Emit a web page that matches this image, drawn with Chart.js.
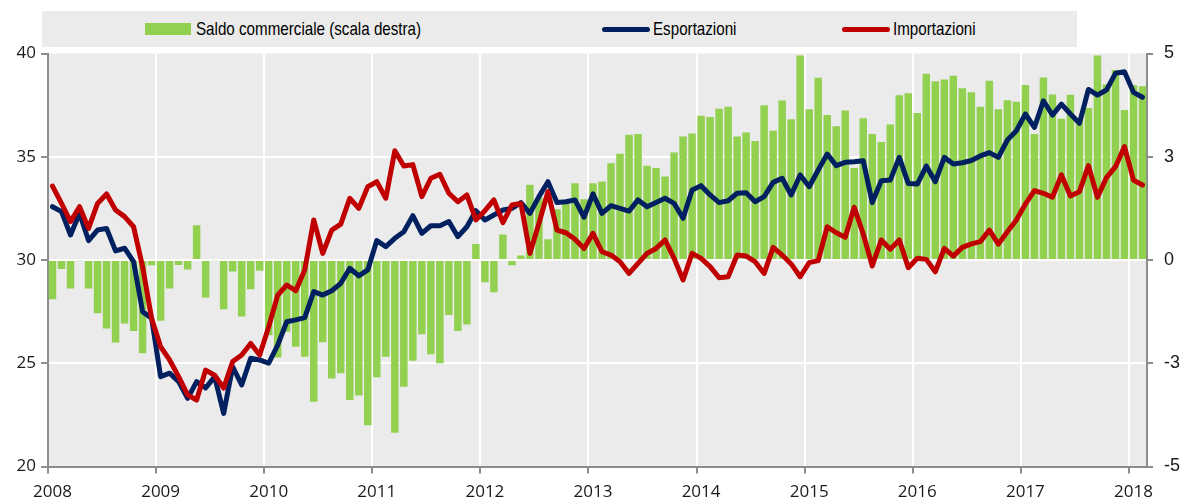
<!DOCTYPE html>
<html lang="it">
<head>
<meta charset="utf-8">
<title>Saldo commerciale, esportazioni e importazioni</title>
<script src="https://cdn.jsdelivr.net/npm/chart.js@4.4.1/dist/chart.umd.min.js"></script>
<style>
  html, body { margin: 0; padding: 0; background: #fff; }
  #wrap { position: relative; width: 1181px; height: 501px; overflow: hidden; }
  #chart { position: absolute; left: 0; top: 0; }
  .legend { position: absolute; left: 42px; top: 11px; width: 1035px; height: 36px; background: #ebebeb; }
  .legend-item {
    position: absolute; top: 0; height: 36px;
    display: flex; align-items: center;
    white-space: nowrap;
  }
  .legend-item .txt {
    display: inline-block;
    font-family: 'Liberation Sans', Arial, sans-serif;
    font-size: 18.5px; color: #000;
    transform: scaleX(0.82); transform-origin: left center;
  }
  .swatch-bar { width: 46px; height: 12px; background: #92d050; margin-right: 5px; }
  .swatch-line { width: 48px; height: 5px; border-radius: 3px; margin-right: 3px; }
</style>
</head>
<body>
<div id="wrap">
  <canvas id="chart" width="1181" height="501"></canvas>
  <div class="legend">
    <div class="legend-item" style="left:103px"><span class="swatch-bar"></span><span class="txt">Saldo commerciale (scala destra)</span></div>
    <div class="legend-item" style="left:560px"><span class="swatch-line" style="background:#002060"></span><span class="txt">Esportazioni</span></div>
    <div class="legend-item" style="left:800px"><span class="swatch-line" style="background:#c00000"></span><span class="txt">Importazioni</span></div>
  </div>
</div>
<script>
// monthly data, Jan 2008 - Feb 2018
const firstYear = 2008;

// trade balance, right scale
const saldo = [
    -0.95, -0.22, -0.69, -0.02, -0.69, -1.29, -1.66, -2.00, -1.54, -1.72, -2.26, -0.13,
    -1.47, -0.69, -0.12, -0.23, 0.84, -0.91, -0.02, -1.19, -0.28, -1.37, -0.71, -0.26,
    -1.82, -2.36, -1.74, -2.10, -2.34, -3.43, -1.99, -2.87, -2.74, -3.39, -3.28, -4.00,
    -2.84, -2.34, -4.18, -3.07, -2.44, -1.80, -2.28, -2.50, -1.33, -1.72, -1.56, 0.39,
    -0.54, -0.78, 0.62, -0.13, 0.11, 1.82, 1.50, 0.50, 1.23, 1.40, 1.86, 1.47,
    1.86, 1.90, 2.34, 2.57, 3.03, 3.05, 2.28, 2.23, 2.02, 2.60, 2.99, 3.06,
    3.49, 3.46, 3.66, 3.71, 2.99, 3.09, 2.88, 3.75, 3.13, 3.86, 3.41, 4.95,
    3.65, 4.41, 3.51, 3.24, 3.62, 2.23, 3.43, 3.05, 2.86, 3.28, 3.99, 4.04,
    3.56, 4.51, 4.33, 4.37, 4.46, 4.16, 4.06, 3.71, 4.34, 3.65, 3.87, 3.83,
    4.24, 3.05, 4.42, 4.01, 3.42, 4.00, 3.40, 3.68, 4.95, 4.25, 4.60, 3.63,
    4.23, 4.21
];

const esportazioni = [
    32.58, 32.34, 31.21, 32.26, 30.94, 31.45, 31.53, 30.44, 30.57, 29.92, 27.50, 27.18,
    24.35, 24.52, 24.11, 23.30, 24.11, 23.80, 24.35, 22.57, 24.83, 23.95, 25.24, 25.16,
    25.00, 25.88, 27.01, 27.10, 27.21, 28.47, 28.30, 28.51, 28.87, 29.60, 29.23, 29.52,
    30.94, 30.65, 31.05, 31.37, 32.15, 31.29, 31.66, 31.66, 31.86, 31.13, 31.61, 32.39,
    31.94, 32.18, 32.42, 32.50, 32.78, 32.26, 33.07, 33.79, 32.79, 32.82, 32.91, 32.07,
    33.20, 32.26, 32.63, 32.50, 32.37, 32.91, 32.58, 32.79, 32.99, 32.74, 32.02, 33.39,
    33.60, 33.15, 32.78, 32.87, 33.23, 33.26, 32.82, 33.07, 33.76, 33.96, 33.15, 34.12,
    33.55, 34.36, 35.13, 34.57, 34.73, 34.76, 34.81, 32.78, 33.84, 33.87, 34.97, 33.71,
    33.68, 34.55, 33.79, 34.97, 34.65, 34.71, 34.82, 35.04, 35.20, 34.97, 35.81, 36.26,
    37.07, 36.42, 37.71, 37.02, 37.55, 37.07, 36.62, 38.26, 37.99, 38.23, 39.04, 39.12,
    38.12, 37.88
];

const importazioni = [
    33.58, 32.74, 31.86, 32.58, 31.53, 32.74, 33.20, 32.42, 32.10, 31.61, 29.68, 27.18,
    25.80, 25.16, 24.35, 23.47, 23.22, 24.67, 24.42, 23.80, 25.08, 25.40, 25.96, 25.40,
    26.77, 28.30, 28.79, 28.51, 29.52, 31.94, 30.32, 31.45, 31.74, 32.99, 32.50, 33.55,
    33.79, 32.99, 35.29, 34.55, 34.62, 33.07, 33.96, 34.15, 33.23, 32.82, 33.15, 31.94,
    32.39, 32.91, 31.81, 32.66, 32.74, 30.32, 31.78, 33.31, 31.45, 31.32, 31.00, 30.56,
    31.29, 30.40, 30.24, 29.92, 29.35, 29.84, 30.32, 30.56, 30.97, 30.08, 29.03, 30.32,
    30.08, 29.68, 29.14, 29.19, 30.24, 30.19, 29.92, 29.35, 30.61, 30.24, 29.81, 29.19,
    29.87, 29.97, 31.61, 31.32, 31.10, 32.55, 31.26, 29.71, 30.97, 30.52, 30.97, 29.63,
    30.08, 30.03, 29.43, 30.56, 30.19, 30.61, 30.78, 30.89, 31.45, 30.77, 31.37, 31.94,
    32.71, 33.36, 33.23, 33.04, 34.12, 33.10, 33.31, 34.57, 33.04, 33.99, 34.52, 35.49,
    33.87, 33.63
];

// category labels, one per month
const months = saldo.map((_, i) => `${firstYear + Math.floor(i / 12)}-${String((i % 12) + 1).padStart(2, '0')}`);

const leftTicks = [20, 25, 30, 35, 40];
const rightTicks = [-5, -2.5, 0, 2.5, 5];

const axisGray = '#8c8c8c';
const tickFont = { family: "'Open Sans', 'Noto Sans', sans-serif", size: 17 };
const rightFont = { family: "'Liberation Sans', Arial, sans-serif", size: 18 };

const plotBackground = {
    id: 'plotBackground',
    beforeDraw(chart) {
        const { ctx, chartArea } = chart;
        ctx.save();
        ctx.fillStyle = '#ebebeb';
        ctx.fillRect(chartArea.left, chartArea.top, chartArea.right - chartArea.left, chartArea.bottom - chartArea.top);
        ctx.restore();
    },
};

new Chart(document.getElementById('chart'), {
    data: {
        labels: months,
        datasets: [
            {
                type: 'line',
                label: 'Importazioni',
                data: importazioni,
                borderColor: '#c00000',
                borderWidth: 5,
                pointRadius: 0,
                tension: 0,
                borderJoinStyle: 'round',
                borderCapStyle: 'round',
                yAxisID: 'y',
                order: 1,
            },
            {
                type: 'line',
                label: 'Esportazioni',
                data: esportazioni,
                borderColor: '#002060',
                borderWidth: 5,
                pointRadius: 0,
                tension: 0,
                borderJoinStyle: 'round',
                borderCapStyle: 'round',
                yAxisID: 'y',
                order: 2,
            },
            {
                type: 'bar',
                label: 'Saldo commerciale (scala destra)',
                data: saldo,
                backgroundColor: '#92d050',
                borderWidth: 0,
                barPercentage: 0.83,
                categoryPercentage: 1,
                yAxisID: 'y1',
                order: 3,
            },
        ],
    },
    options: {
        responsive: false,
        animation: false,
        events: [],
        layout: {
            padding: { top: 53.5, left: 0, right: 0, bottom: 0 },
        },
        plugins: {
            legend: { display: false },
            tooltip: { enabled: false },
        },
        scales: {
            x: {
                type: 'category',
                offset: true,
                afterFit: (scale) => { scale.height = 34.5; },
                border: { display: true, color: axisGray, width: 2 },
                grid: {
                    offset: true,
                    lineWidth: 2,
                    tickLength: 7,
                    color: (ctx) => (ctx.index > 0 && ctx.index % 12 === 0 ? '#ffffff' : 'rgba(0,0,0,0)'),
                    tickColor: (ctx) => (ctx.index % 12 === 0 ? axisGray : 'rgba(0,0,0,0)'),
                },
                ticks: {
                    autoSkip: false,
                    maxRotation: 0,
                    padding: 8,
                    color: '#1a1a1a',
                    font: tickFont,
                    callback: (value, index) => (index % 12 === 0 ? months[index].slice(0, 4) : ''),
                },
            },
            y: {
                position: 'left',
                min: leftTicks[0],
                max: leftTicks[leftTicks.length - 1],
                afterFit: (scale) => { scale.width = 48; },
                afterBuildTicks: (scale) => { scale.ticks = leftTicks.map((v) => ({ value: v })); },
                border: { display: true, color: axisGray, width: 2 },
                grid: {
                    lineWidth: 2,
                    tickLength: 7,
                    color: (ctx) => (ctx.tick && ctx.tick.value > 20 && ctx.tick.value < 40 ? '#ffffff' : 'rgba(0,0,0,0)'),
                    tickColor: axisGray,
                },
                ticks: {
                    padding: 5,
                    color: '#1a1a1a',
                    font: tickFont,
                },
            },
            y1: {
                position: 'right',
                min: rightTicks[0],
                max: rightTicks[rightTicks.length - 1],
                afterFit: (scale) => { scale.width = 34; },
                afterBuildTicks: (scale) => { scale.ticks = rightTicks.map((v) => ({ value: v })); },
                border: { display: true, color: axisGray, width: 2 },
                grid: {
                    drawOnChartArea: false,
                    lineWidth: 2,
                    tickLength: 6,
                    tickColor: axisGray,
                },
                ticks: {
                    padding: 11,
                    color: '#1a1a1a',
                    font: rightFont,
                    callback: (value) => Number(value).toFixed(0),
                },
            },
        },
    },
    plugins: [plotBackground],
});
</script>
</body>
</html>
